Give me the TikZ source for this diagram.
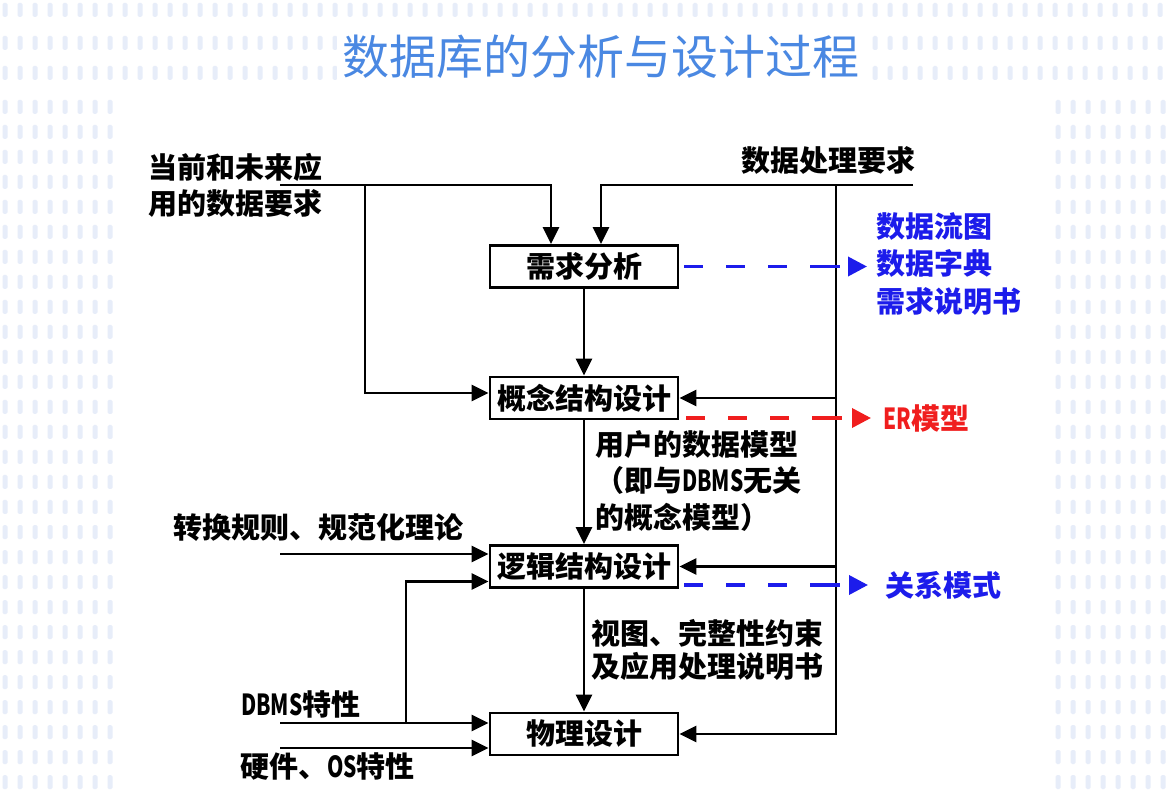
\documentclass[tikz,border=0pt]{standalone}
\usepackage{fontspec}
\setmainfont{Noto Sans CJK SC}
\newfontfamily\cjk{Noto Sans CJK SC}
\usetikzlibrary{arrows.meta}
\definecolor{titleblue}{RGB}{74,136,226}
\definecolor{outblue}{RGB}{28,28,235}
\definecolor{outred}{RGB}{240,30,30}
\definecolor{dotc}{RGB}{231,237,249}
\newcommand\narrowlat[1]{\scalebox{0.72}[1]{#1}}
\begin{document}
\begin{tikzpicture}[x=1pt,y=-1pt,
  wire/.style={line width=2.9pt, black},
  arr/.style={wire, -{Triangle[length=17pt,width=16pt]}},
  dsh/.style={line width=3.6pt, dash pattern=on 19pt off 23pt on 19pt off 23pt on 19pt off 23pt on 30pt off 60pt, -{Triangle[length=19pt,width=19pt]}},
  stage/.style={draw, line width=2.9pt, minimum width=188pt, minimum height=42pt, inner sep=0pt,
    font=\cjk\bfseries\fontsize{29}{34}\selectfont},
  lbl/.style={font=\cjk\bfseries\fontsize{29}{36}\selectfont, align=left, inner sep=0pt, anchor=west},
  dotmark/.style={fill=dotc, rounded corners=1.5pt}]
\useasboundingbox (0,0) rectangle (1168,791);
\fill[white] (0,0) rectangle (1168,791);
% background pattern
\foreach \i in {0,...,77} {
  \foreach \j in {10,43,73} {
    \fill[dotmark] ({5+15*\i-2.5},{\j-7}) rectangle ++(5,14);
  }
}
\foreach \i in {0,...,7} {
  \foreach \j in {0,...,27} {
    \fill[dotmark] ({5+15*\i-2.5},{107+25*\j-7}) rectangle ++(5,14);
    \fill[dotmark] ({1058+15*\i-2.5},{107+25*\j-7}) rectangle ++(5,14);
  }
}
% title
\node[font=\cjk\fontsize{47}{52}\selectfont, text=titleblue, fill=white, inner xsep=6pt, inner ysep=6pt] (title) at (601,57) {数据库的分析与设计过程};
% stages
\node[stage] (b1) at (584,266.5) {需求分析};
\node[stage] (b2) at (584,398) {概念结构设计};
\node[stage] (b3) at (584,566.5) {逻辑结构设计};
\node[stage] (b4) at (584,734) {物理设计};
% labels
\node[lbl] (req1) at (148,185) {当前和未来应\\用的数据要求};
\node[lbl] (req2) at (741,160) {数据处理要求};
\node[lbl, text=outblue, font=\cjk\bfseries\fontsize{29}{37.5}\selectfont] (out1) at (876,264) {数据流图\\数据字典\\需求说明书};
\node[lbl, text=outred] (out2) at (883,418) {\narrowlat{ER}模型};
\node[lbl, font=\cjk\bfseries\fontsize{29}{36.5}\selectfont] (mid1) at (595,481) {用户的数据模型\\（即与\narrowlat{DBMS}无关\\的概念模型）};
\node[lbl, font=\cjk\bfseries\fontsize{29}{33}\selectfont] (mid2) at (591,650) {视图、完整性约束\\及应用处理说明书};
\node[lbl] (rule) at (173,528) {转换规则、规范化理论};
\node[lbl, text=outblue] (out3) at (885,585) {关系模式};
\node[lbl] (dbms) at (241,704) {\narrowlat{DBMS}特性};
\node[lbl] (hw) at (240,766) {硬件、\narrowlat{OS}特性};
% junction coordinates
\coordinate (inA) at (280,185);
\coordinate (jA) at (551,185);
\coordinate (brA) at (365,185);
\coordinate (inB) at (913,185);
\coordinate (jB) at (601,185);
\coordinate (rv) at (836,185);
\coordinate (inC) at (280,554);
\coordinate (inD) at (280,723);
\coordinate (brD) at (406,723);
\coordinate (inE) at (280,748);
% connectors
\draw[arr] (inA) -- (jA) -- (jA |- b1.north);
\draw[arr] (brA) |- ([yshift=5pt]b2.west);
\draw[arr] (inB) -- (jB) -- (jB |- b1.north);
\draw[arr] (rv) -- (rv |- b4.east) -- (b4.east);
\draw[arr] (rv |- b2.east) -- (b2.east);
\draw[arr] (rv |- b3.east) -- (b3.east);
\draw[arr] (b1.south) -- (b2.north);
\draw[arr] (b2.south) -- (b3.north);
\draw[arr] (b3.south) -- (b4.north);
\draw[arr] (inC) -- (inC -| b3.west);
\draw[arr] (inD) -- (inD -| b4.west);
\draw[arr] (brD) |- ([yshift=-15pt]b3.west);
\draw[arr] (inE) -- (inE -| b4.west);
% outputs
\draw[dsh, outblue] ([xshift=5pt]b1.east) -- ([xshift=-9pt]out1.west |- b1.east);
\draw[dsh, outred] ([xshift=7pt]b2.east |- out2.west) -- ([xshift=-12pt]out2.west);
\draw[dsh, outblue] ([xshift=5pt]b3.east |- out3.west) -- ([xshift=-17pt]out3.west);
\end{tikzpicture}
\end{document}
